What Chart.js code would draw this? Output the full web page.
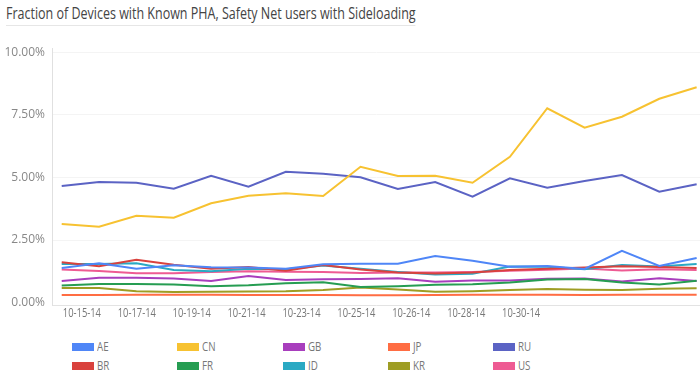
<!DOCTYPE html>
<html>
<head>
<meta charset="utf-8">
<script src="https://cdn.jsdelivr.net/npm/chart.js@4.4.1/dist/chart.umd.min.js"></script>
<style>
    body { margin: 0; background: #fff; width: 700px; height: 375px; overflow: hidden; position: relative; }
    #title {
        position: absolute; left: 6px; top: 1px;
        font-family: 'Open Sans', sans-serif;
        font-size: 17px; color: #444; white-space: nowrap;
        padding-bottom: 1px; border-bottom: 1px solid #e6e6e6;
        transform: scaleX(0.735); transform-origin: left top;
    }
    #chart { position: absolute; left: 0; top: 0; }
    #legend {
        position: absolute; left: 72px; top: 337px;
        display: grid; grid-auto-flow: column;
        grid-template-rows: repeat(2, 19px);
        grid-template-columns: repeat(5, 105.3px);
    }
    .legend-item { display: flex; align-items: center; }
    .legend-swatch { width: 22px; height: 8px; margin-right: 3px; flex: none; }
    .legend-text {
        font-family: 'Open Sans', sans-serif; font-size: 12.5px; color: #777;
        display: inline-block; transform: scaleX(0.78); transform-origin: left center;
    }
</style>
</head>
<body>
<div id="title">Fraction of Devices with Known PHA, Safety Net users with Sideloading</div>
<canvas id="chart" width="700" height="322"></canvas>
<div id="legend"></div>

<script>
// --- data (percent) ---
const countries = ['AE', 'BR', 'CN', 'FR', 'GB', 'ID', 'JP', 'KR', 'RU', 'US'];
const colors = ['#4f86f7', '#d9423d', '#f7c231', '#269d52', '#a83ebd', '#2aa9c3', '#ff6d43', '#9e9d24', '#5b63c4', '#ee5b93'];

const valuesAE = [1.38, 1.57, 1.35, 1.49, 1.41, 1.40, 1.35, 1.53, 1.55, 1.55, 1.86, 1.67, 1.43, 1.46, 1.34, 2.07, 1.46, 1.78];
const valuesBR = [1.61, 1.45, 1.71, 1.51, 1.35, 1.42, 1.27, 1.50, 1.32, 1.20, 1.16, 1.20, 1.30, 1.35, 1.40, 1.45, 1.42, 1.38];
const valuesCN = [3.14, 3.03, 3.47, 3.39, 3.97, 4.27, 4.37, 4.26, 5.43, 5.06, 5.07, 4.79, 5.83, 7.77, 6.99, 7.43, 8.15, 8.61];
const valuesFR = [0.68, 0.74, 0.74, 0.72, 0.65, 0.69, 0.77, 0.81, 0.62, 0.65, 0.71, 0.73, 0.80, 0.92, 0.94, 0.80, 0.72, 0.87];
const valuesGB = [0.86, 0.99, 0.99, 0.96, 0.86, 1.06, 0.90, 0.93, 0.94, 0.97, 0.83, 0.88, 0.88, 0.95, 0.96, 0.84, 0.97, 0.86];
const valuesID = [1.54, 1.54, 1.57, 1.30, 1.25, 1.35, 1.33, 1.48, 1.35, 1.22, 1.12, 1.15, 1.44, 1.43, 1.33, 1.50, 1.44, 1.54];
const valuesJP = [0.30, 0.30, 0.31, 0.31, 0.31, 0.30, 0.30, 0.30, 0.29, 0.29, 0.30, 0.31, 0.31, 0.31, 0.30, 0.31, 0.31, 0.31];
const valuesKR = [0.58, 0.58, 0.45, 0.42, 0.43, 0.44, 0.45, 0.50, 0.60, 0.52, 0.43, 0.45, 0.50, 0.54, 0.51, 0.50, 0.55, 0.57];
const valuesRU = [4.66, 4.82, 4.79, 4.55, 5.07, 4.63, 5.23, 5.15, 5.01, 4.54, 4.82, 4.23, 4.97, 4.59, 4.86, 5.10, 4.43, 4.73];
const valuesUS = [1.32, 1.26, 1.17, 1.17, 1.22, 1.25, 1.23, 1.22, 1.18, 1.20, 1.20, 1.22, 1.27, 1.31, 1.36, 1.28, 1.33, 1.30];

const seriesValues = [valuesAE, valuesBR, valuesCN, valuesFR, valuesGB, valuesID, valuesJP, valuesKR, valuesRU, valuesUS];

// x tick labels sit between the daily points in the original
const tickLabels = ['10-15-14', '10-17-14', '10-19-14', '10-21-14', '10-23-14', '10-25-14', '10-26-14', '10-28-14', '10-30-14'];
const firstTick = 0.54;   // in point-index units
const tickStep = 1.47;

const yTicks = [0, 2.5, 5, 7.5, 10];

// build datasets
const datasets = countries.map((c, i) => ({
    label: c,
    data: seriesValues[i].map((v, idx) => ({ x: idx, y: v })),
    borderColor: colors[i],
    backgroundColor: colors[i],
    borderWidth: 2,
    pointRadius: 0,
    tension: 0,
    fill: false
}));

// the original uses a condensed face for the date labels, so squeeze Open Sans a bit
const narrowXLabels = {
    id: 'narrowXLabels',
    afterDraw(chart) {
        const { ctx, chartArea } = chart;
        const x = chart.scales.x;
        ctx.save();
        ctx.font = "12px 'Open Sans', sans-serif";
        ctx.fillStyle = '#777';
        ctx.textAlign = 'center';
        ctx.textBaseline = 'middle';
        tickLabels.forEach((label, k) => {
            const px = x.getPixelForValue(firstTick + k * tickStep);
            ctx.save();
            ctx.translate(px, chartArea.bottom + 9);
            ctx.scale(0.78, 1);
            ctx.fillText(label, 0, 0);
            ctx.restore();
        });
        ctx.restore();
    }
};

const ctx = document.getElementById('chart').getContext('2d');
const chart = new Chart(ctx, {
    type: 'line',
    data: { datasets: datasets },
    plugins: [narrowXLabels],
    options: {
        responsive: false,
        animation: false,
        layout: { padding: { top: 48, left: 0, right: 0, bottom: 0 } },
        plugins: {
            legend: { display: false },
            tooltip: { enabled: false }
        },
        scales: {
            x: {
                type: 'linear',
                min: -0.26,
                max: 17.09,
                grid: { display: false, drawTicks: false },
                border: { color: '#e3e3e3' },
                ticks: { display: false },
                afterFit: scale => { scale.height = 17; }
            },
            y: {
                min: -0.1,
                max: 10.18,
                grid: {
                    drawTicks: false,
                    color: c => (c.tick && c.tick.value === 0) ? 'rgba(0,0,0,0)' : '#f4f4f4'
                },
                border: { color: '#e0e0e0' },
                afterBuildTicks: scale => {
                    scale.ticks = yTicks.map(v => ({ value: v }));
                },
                afterFit: scale => { scale.width = 52; },
                ticks: {
                    padding: 7,
                    color: '#888',
                    font: { family: "'Open Sans', sans-serif", size: 12 },
                    callback: v => v.toFixed(2) + '%'
                }
            }
        }
    }
});

// legend: two rows, filled column by column like the original
const legend = document.getElementById('legend');
chart.data.datasets.forEach(ds => {
    const item = document.createElement('div');
    item.className = 'legend-item';
    item.innerHTML = `<span class="legend-swatch" style="background:${ds.borderColor}"></span><span class="legend-text">${ds.label}</span>`;
    legend.appendChild(item);
});
</script>
</body>
</html>
